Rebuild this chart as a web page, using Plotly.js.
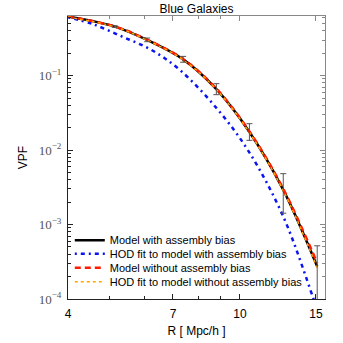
<html><head><meta charset="UTF-8"><title>Blue Galaxies VPF</title>
<script src="https://cdn.plot.ly/plotly-3.0.1.min.js"></script>
<style>
  body, html { margin: 0; padding: 0; background: #ffffff; }
  #plot { width: 343px; height: 343px; }
</style></head><body>
<div id="plot"></div>
<script>
  const rModel = [4.0, 5.13, 6.10, 7.39, 8.82, 10.52, 12.6, 15.1];
  const vpfWithAB = [0.62, 0.455, 0.301, 0.165, 0.0657, 0.0175, 0.00292, 0.000273];
  const vpfWithoutAB = [0.62, 0.457, 0.303, 0.166, 0.0665, 0.0178, 0.00300, 0.000305];
  const vpfHodWithoutAB = [0.61, 0.452, 0.299, 0.163, 0.0650, 0.0172, 0.00286, 0.000262];

  // HOD fit to the model with assembly bias (blue dash-dot)
  const rHodWithAB = [4.0, 4.57, 5.34, 6.24, 7.26, 8.83, 10.46, 12.6, 14.78, 15.16];
  const vpfHodWithAB = [0.608, 0.490, 0.333, 0.221, 0.119, 0.0365, 0.00975, 0.00128, 0.000103, 0.000067];

  // error bars on the model with assembly bias
  const rErr = [5.13, 6.10, 7.39, 8.82, 10.52, 12.6, 15.1];
  const vpfErr = [0.455, 0.301, 0.165, 0.0657, 0.0175, 0.00292, 0.000273];
  const errUp = [0.012, 0.018, 0.016, 0.0122, 0.0051, 0.0019, 0.000245];
  const errDown = [0.011, 0.016, 0.014, 0.0103, 0.0040, 0.0015, 0.000245];

  const xTicks = [4, 7, 10, 15];
  const xMinorTicks = [5, 6, 8, 9];
  const yTicks = [1e-4, 1e-3, 1e-2, 1e-1];
  const yTickText = ['10<sup>\u22124</sup>', '10<sup>\u22123</sup>', '10<sup>\u22122</sup>', '10<sup>\u22121</sup>'];

  const sans = 'Liberation Sans, Arial, sans-serif';

  const traces = [
    {
      x: rModel, y: vpfWithAB, mode: 'lines', type: 'scatter', legend: 'legend',
      name: 'Model with assembly bias',
      line: { color: '#000000', width: 2.5, shape: 'spline' }
    },
    {
      x: rHodWithAB, y: vpfHodWithAB, mode: 'lines', type: 'scatter', legend: 'legend2',
      name: 'HOD fit to model with assembly bias',
      line: { color: '#0a14f0', width: 2.5, dash: '2px,4px,4px,4px', shape: 'spline' }
    },
    {
      x: rModel, y: vpfWithoutAB, mode: 'lines', type: 'scatter', legend: 'legend3',
      name: 'Model without assembly bias',
      line: { color: '#ff1a00', width: 2.5, dash: '6px,4px', shape: 'spline' }
    },
    {
      x: rModel, y: vpfHodWithoutAB, mode: 'lines', type: 'scatter', legend: 'legend4',
      name: 'HOD fit to model without assembly bias',
      line: { color: '#ffa500', width: 1.5, dash: 'dot', shape: 'spline' }
    },
    {
      // error bars live on the mirrored axes so the top/right frame gets drawn
      x: rErr, y: vpfErr, mode: 'markers', type: 'scatter', xaxis: 'x2', yaxis: 'y2',
      showlegend: false, hoverinfo: 'skip',
      marker: { size: 1, opacity: 0 },
      error_y: { type: 'data', symmetric: false, array: errUp, arrayminus: errDown,
                 color: '#555555', thickness: 1, width: 3 }
    }
  ];

  function legendAt(y) {
    return {
      x: 0.007, y: y, xanchor: 'left', yanchor: 'middle',
      bgcolor: 'rgba(0,0,0,0)', borderwidth: 0,
      font: { family: sans, size: 11, color: '#000' }
    };
  }

  const layout = {
    width: 343, height: 343,
    margin: { l: 68, r: 18, t: 16, b: 44 },
    paper_bgcolor: '#ffffff', plot_bgcolor: '#ffffff',
    font: { family: sans, size: 12, color: '#000000' },
    title: { text: 'Blue Galaxies', font: { family: sans, size: 12, color: '#000' },
             x: 0.5, xref: 'paper', xanchor: 'center', y: 0.975, yanchor: 'middle' },
    showlegend: true,
    legend: legendAt(0.208),
    legend2: legendAt(0.160),
    legend3: legendAt(0.110),
    legend4: legendAt(0.061),
    xaxis: {
      type: 'log', range: [Math.log10(4), 1.197],
      tickmode: 'array', tickvals: xTicks, ticktext: xTicks.map(String),
      ticks: 'inside', ticklen: 5, tickcolor: '#222', showline: true, linecolor: '#222',
      showgrid: false, zeroline: false, ticklabelstandoff: 4,
      tickfont: { family: sans, size: 12, color: '#000' },
      minor: { tickmode: 'array', tickvals: xMinorTicks, ticks: 'inside', ticklen: 3, tickcolor: '#222', showgrid: false },
      title: { text: 'R [ Mpc/h ]', font: { family: sans, size: 12 }, standoff: 6 }
    },
    yaxis: {
      type: 'log', range: [-4, -0.2],
      tickmode: 'array', tickvals: yTicks, ticktext: yTickText,
      ticks: 'inside', ticklen: 5, tickcolor: '#222', showline: true, linecolor: '#222',
      showgrid: false, zeroline: false, ticklabelstandoff: 3,
      tickfont: { family: 'Liberation Serif, serif', size: 13, color: '#555' },
      minor: { tickmode: 'linear', dtick: 'D1', ticks: 'inside', ticklen: 3, tickcolor: '#222', showgrid: false },
      title: { text: 'VPF', font: { family: sans, size: 12 }, standoff: 8 }
    },
    xaxis2: {
      type: 'log', overlaying: 'x', side: 'top', matches: 'x', anchor: 'y2',
      tickmode: 'array', tickvals: xTicks, showticklabels: false,
      ticks: 'inside', ticklen: 5, tickcolor: '#888', showline: true, linecolor: '#888',
      showgrid: false, zeroline: false,
      minor: { tickmode: 'array', tickvals: xMinorTicks, ticks: 'inside', ticklen: 3, tickcolor: '#888', showgrid: false }
    },
    yaxis2: {
      type: 'log', overlaying: 'y', side: 'right', matches: 'y', anchor: 'x2',
      tickmode: 'array', tickvals: yTicks, showticklabels: false,
      ticks: 'inside', ticklen: 5, tickcolor: '#888', showline: true, linecolor: '#888',
      showgrid: false, zeroline: false,
      minor: { tickmode: 'linear', dtick: 'D1', ticks: 'inside', ticklen: 3, tickcolor: '#888', showgrid: false }
    }
  };

  Plotly.newPlot('plot', traces, layout, { staticPlot: true, displayModeBar: false });
</script>
</body></html>
